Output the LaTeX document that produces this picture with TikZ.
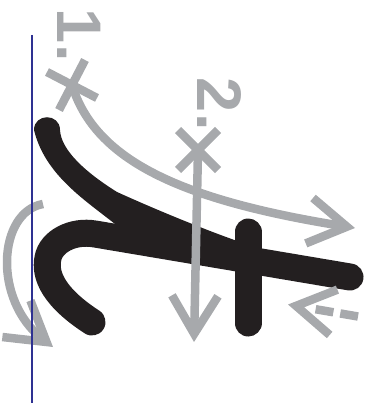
\documentclass[tikz,border=0pt]{standalone}
\usepackage{fontspec}
\setmainfont{Liberation Sans}
\usetikzlibrary{arrows.meta}
\definecolor{kgray}{HTML}{A7A9AC}
\definecolor{kblack}{HTML}{231F20}
\definecolor{kblue}{HTML}{2E3192}
\tikzset{
  brush/.style={line width=27pt,line cap=round,color=kblack},
  guide/.style={line width=8.5pt,color=kgray},
  guidearrow/.style={guide,-{Straight Barb[length=38pt,width=46pt,sharp]}},
  num/.style={text=kgray,font=\bfseries\fontsize{63}{63}\selectfont,
    rotate=-90,anchor=base west,inner sep=0pt,outer sep=0pt},
}
\begin{document}
\begin{tikzpicture}[x=1pt,y=-1pt]
    \useasboundingbox (0,0) rectangle (373,403);
    % 筆画
    \fill[kblack] (34,130) .. controls (34,113) and (60,113) .. (60,130)
        .. controls (61,150) and (85,172) .. (117,192)
        .. controls (150,207) and (200,228) .. (240,242)
        -- (240,258) -- (115,224)
        .. controls (85,200) and (45,175) .. (34,130) -- cycle;
    \draw[brush] (92,322) .. controls (55,298) and (44,276) .. (48,258)
        .. controls (51,242) and (72,230) .. (95,234) -- (350,277);
    \draw[brush] (248,232) -- (248,323);
    % 始点と番号
    \coordinate (X1) at (72,85);
    \coordinate (X2) at (198,150);
    \node[num] (n1) at (57,9) {1.};
    \node[num] (n2) at (197,78) {2.};
    \draw[guide] (X1) ++(-25,-13) -- ++(50,26) (X1) ++(13,-25) -- ++(-26,50);
    \draw[guide] (X2) ++(-20,-20) -- ++(40,40) (X2) ++(20,-20) -- ++(-40,40);
    % 書き順の矢印
    \draw[guidearrow] (X1) .. controls (95,160) and (180,200) .. (355,228);
    \draw[guidearrow] (X2) -- (194,342);
    \draw[guidearrow] (43,204) .. controls (-2,212) and (-8,300) .. (53,347);
    \draw[guidearrow,dash pattern=on 18pt off 7pt on 18pt off 40pt]
        (358,316.5) -- (288,304.5);
    % 基準線
    \draw[kblue,line width=2.5pt] (32,35) -- (32,403);
\end{tikzpicture}
\end{document}
